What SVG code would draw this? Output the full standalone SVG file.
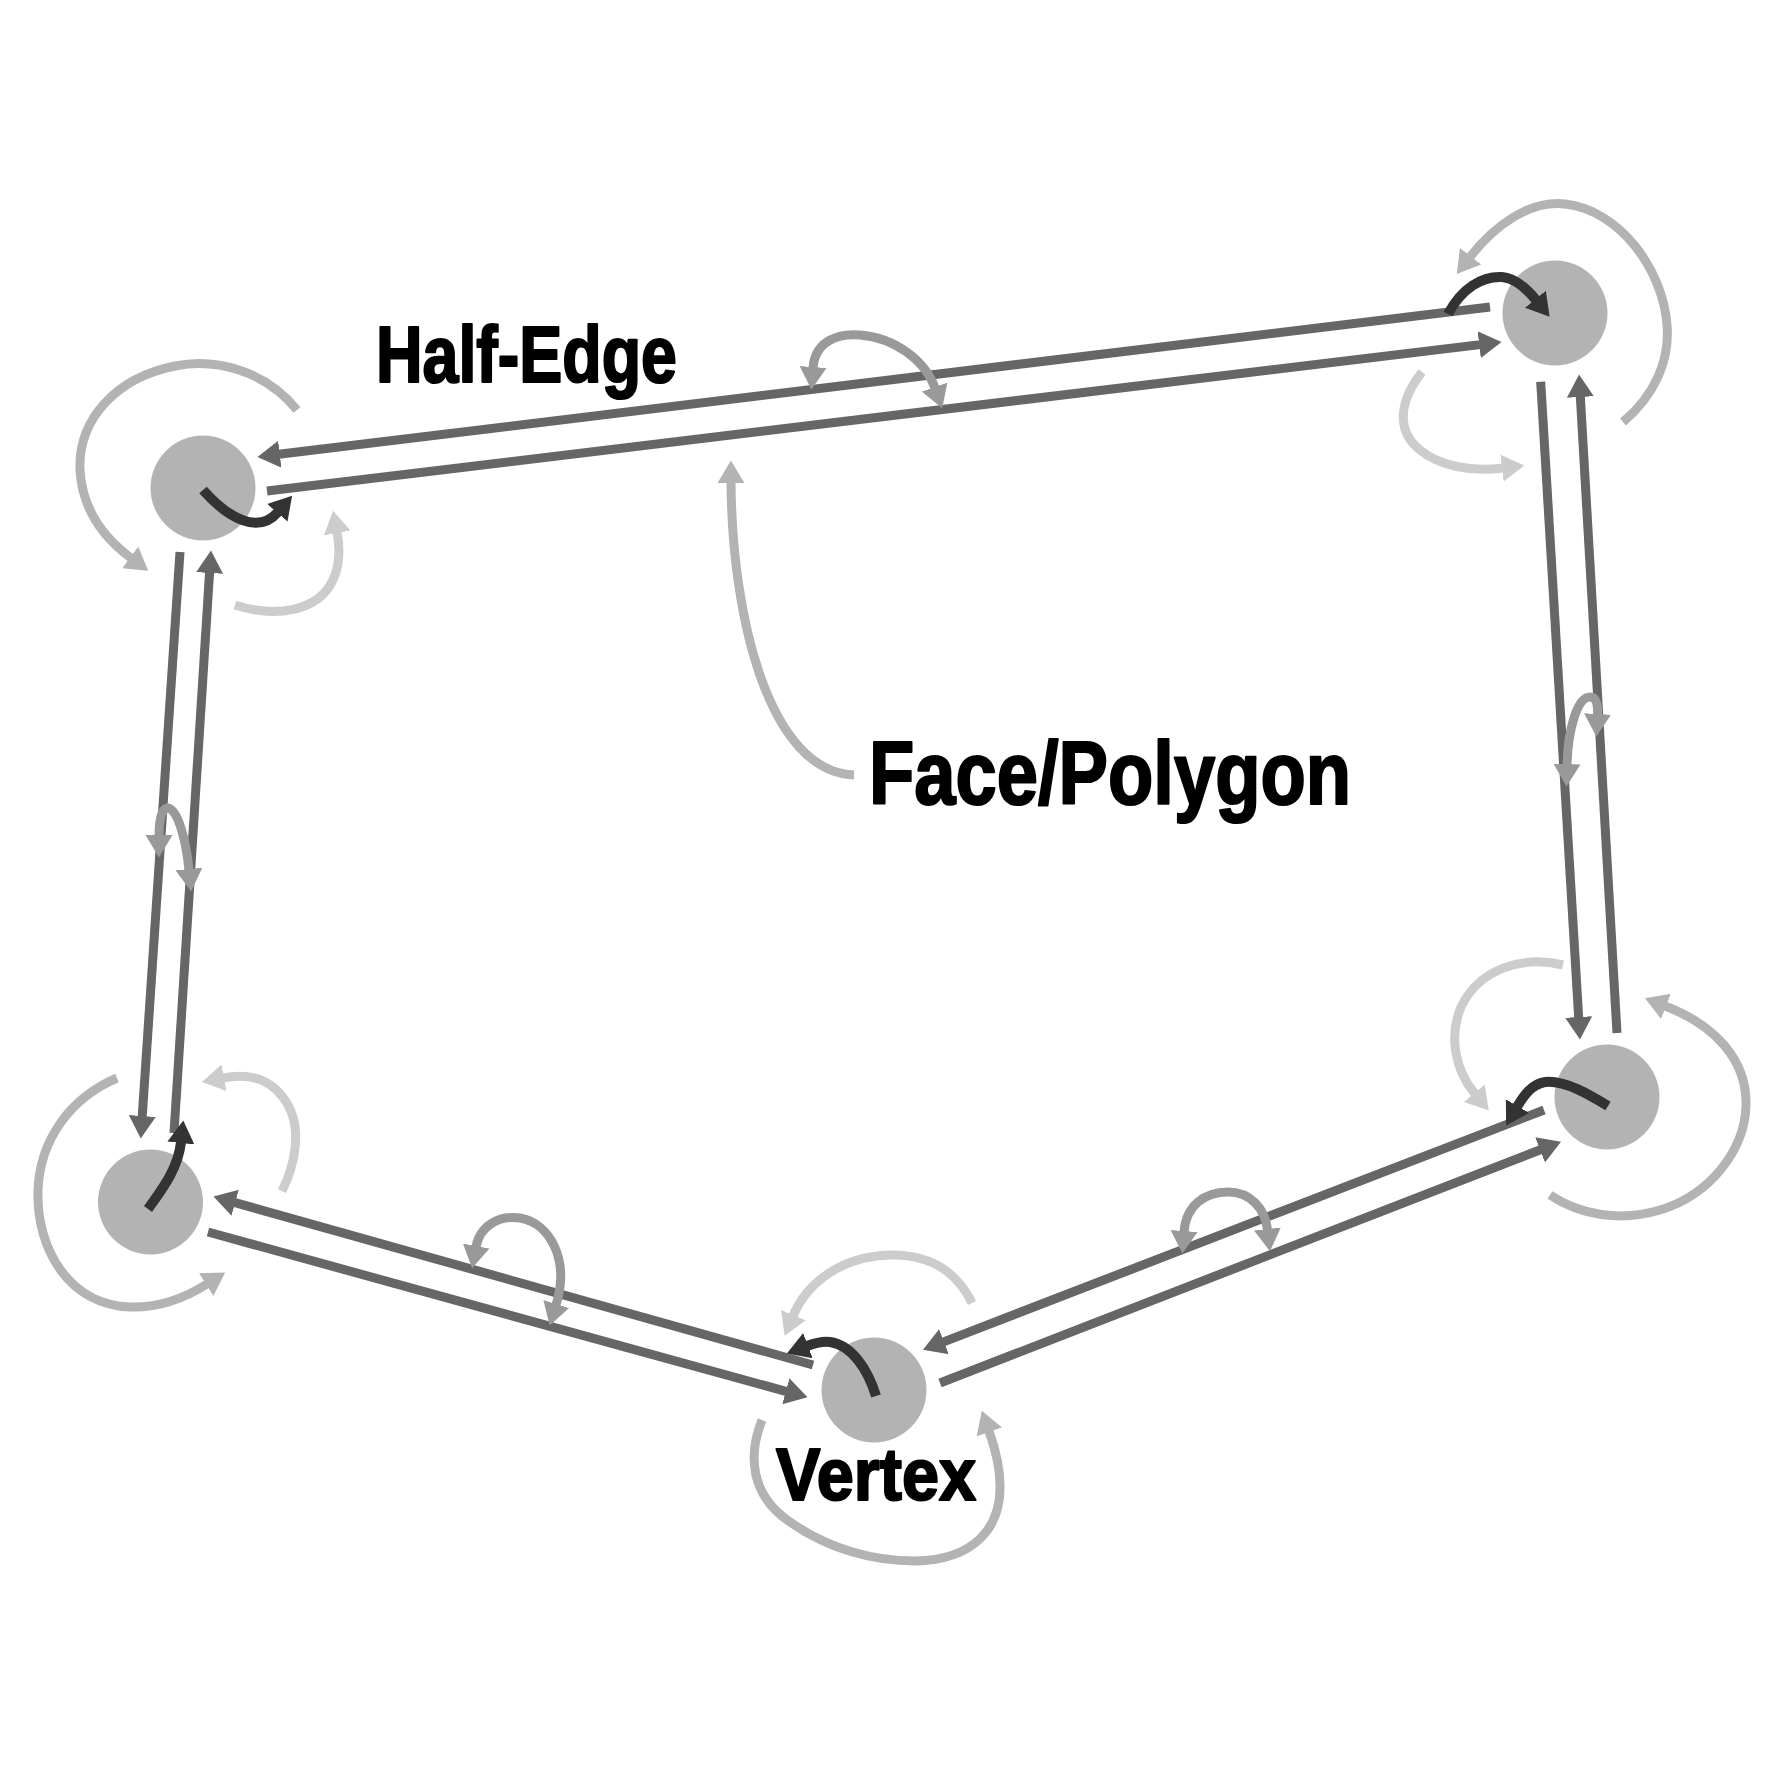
<svg xmlns="http://www.w3.org/2000/svg" width="1772" height="1772" viewBox="0 0 1772 1772">
<defs>
<style>
.v{fill:#b3b3b3}
.e{fill:none;stroke:#666666;stroke-width:9;marker-end:url(#h666)}
.d{fill:none;stroke:#333333;stroke-width:10;marker-end:url(#h333)}
.l{fill:none;stroke:#b3b3b3;stroke-width:9;marker-end:url(#hb3)}
.s{fill:none;stroke:#cccccc;stroke-width:9;marker-end:url(#hcc)}
.t{fill:none;stroke:#999999;stroke-width:9;marker-start:url(#h999);marker-end:url(#h999)}
.lab{font-family:"Liberation Sans Narrow","Liberation Sans",Arial,sans-serif;font-weight:bold;fill:#000000;stroke:#000000;stroke-width:2.2;stroke-linejoin:round}
</style>
<marker id="h666" viewBox="0 -14 23 28" refX="1" refY="0" markerWidth="23" markerHeight="28" markerUnits="userSpaceOnUse" orient="auto"><path d="M0,-13.5 L22.5,0 L0,13.5 z" fill="#666666"/></marker>
<marker id="h333" viewBox="0 -14 23 28" refX="1" refY="0" markerWidth="23" markerHeight="28" markerUnits="userSpaceOnUse" orient="auto"><path d="M0,-13.5 L22.5,0 L0,13.5 z" fill="#333333"/></marker>
<marker id="hb3" viewBox="0 -14 23 28" refX="1" refY="0" markerWidth="23" markerHeight="28" markerUnits="userSpaceOnUse" orient="auto"><path d="M0,-13.5 L22.5,0 L0,13.5 z" fill="#b3b3b3"/></marker>
<marker id="hcc" viewBox="0 -14 23 28" refX="1" refY="0" markerWidth="23" markerHeight="28" markerUnits="userSpaceOnUse" orient="auto"><path d="M0,-13.5 L22.5,0 L0,13.5 z" fill="#cccccc"/></marker>
<marker id="h999" viewBox="0 -14 23 28" refX="1" refY="0" markerWidth="23" markerHeight="28" markerUnits="userSpaceOnUse" orient="auto-start-reverse"><path d="M0,-13.5 L22.5,0 L0,13.5 z" fill="#999999"/></marker>
</defs>
<rect width="1772" height="1772" fill="#ffffff"/>
<g id="vertex-1"><circle class="v" cx="203" cy="488" r="52.5"/></g>
<g id="vertex-2"><circle class="v" cx="1555" cy="313" r="52.5"/></g>
<g id="vertex-3"><circle class="v" cx="150.5" cy="1202" r="52.5"/></g>
<g id="vertex-4"><circle class="v" cx="1607" cy="1097" r="52.5"/></g>
<g id="vertex-5"><circle class="v" cx="874" cy="1390" r="52.5"/></g>
<g id="connectors">
<!-- half-edges -->
<path class="e" d="M1490,307 L278.8,454.3"/>
<path class="e" d="M267,491 L1480.2,344.6"/>
<path class="e" d="M180,552 L142.2,1117"/>
<path class="e" d="M174,1133 L209.6,572"/>
<path class="e" d="M813,1365 L234.2,1202.4"/>
<path class="e" d="M208,1232 L786.8,1391.6"/>
<path class="e" d="M1544,1110 L943,1342.1"/>
<path class="e" d="M940,1383 L1541,1149.5"/>
<path class="e" d="M1540.7,381.7 L1578.7,1018"/>
<path class="e" d="M1617,1033 L1580.3,396"/>
<!-- twin arrows -->
<path class="t" d="M813,368 C815,340 840,333 860,335 C895,338 925,360 935,388"/>
<path class="t" d="M159,836 C159,815 163,808 168,808 C178,810 186,840 189,870"/>
<path class="t" d="M1567,765 C1568,730 1577,697 1590,697 C1597,697 1598,706 1597.5,715"/>
<path class="t" d="M476,1247 C480,1225 500,1215 520,1218 C550,1223 570,1260 556,1305"/>
<path class="t" d="M1184,1232 C1186,1205 1205,1192 1228,1192 C1250,1192 1265,1208 1267.5,1230"/>
<!-- vertex outgoing half-edge arrows -->
<path class="d" d="M203,490 C228,518 258,535 278,512"/>
<path class="d" d="M1448,314 C1462,288 1482,276 1502,277 C1516,278 1527,289 1536,300"/>
<path class="d" d="M148,1209 C160,1192 178,1170 181,1142"/>
<path class="d" d="M1608,1106 C1590,1095 1565,1080 1545,1082 C1532,1084 1524,1095 1517,1107"/>
<path class="d" d="M876,1396 C868,1370 852,1345 830,1342 C822,1341 815,1343 807,1346"/>
<!-- next / prev arcs -->
<path class="l" d="M297,410 C265,370 215,358 175,366 C115,378 78,420 80,470 C82,505 100,535 131,558"/>
<path class="s" d="M235,605 C275,618 318,612 333,580 C340,565 340,548 337,532"/>
<path class="l" d="M1623,422 C1655,395 1670,360 1667,325 C1663,270 1620,210 1565,204 C1530,200 1495,225 1470,257"/>
<path class="s" d="M1422,372 C1400,400 1395,430 1420,450 C1440,466 1470,472 1503,468"/>
<path class="l" d="M117,1078 C70,1098 40,1140 38,1190 C36,1250 70,1305 130,1307 C160,1308 185,1298 207,1284"/>
<path class="s" d="M282,1191 C295,1165 302,1130 288,1105 C275,1082 255,1072 223,1078"/>
<path class="s" d="M1563,965 C1520,955 1480,970 1462,1005 C1448,1035 1455,1070 1475,1094"/>
<path class="l" d="M1550,1195 C1580,1215 1620,1222 1660,1210 C1710,1195 1745,1150 1746,1105 C1747,1060 1715,1025 1665,1006"/>
<path class="s" d="M972,1303 C955,1268 925,1254 890,1255 C845,1256 808,1280 793,1316"/>
<path class="l" d="M762,1420 C748,1455 750,1495 790,1522 C830,1550 875,1561 915,1561 C975,1560 1001,1527 1000,1485 C1000,1465 995,1448 989,1431"/>
<!-- face arrow -->
<path class="l" d="M854,775 C770,772 732,620 731,482"/>
</g>
<g id="label-half-edge"><text class="lab" x="376" y="382" font-size="79" textLength="301" lengthAdjust="spacingAndGlyphs">Half-Edge</text></g>
<g id="label-face"><text class="lab" x="869" y="804" font-size="89" textLength="482" lengthAdjust="spacingAndGlyphs">Face/Polygon</text></g>
<g id="label-vertex"><text class="lab" x="776" y="1500" font-size="74" textLength="200" lengthAdjust="spacingAndGlyphs">Vertex</text></g>
</svg>
